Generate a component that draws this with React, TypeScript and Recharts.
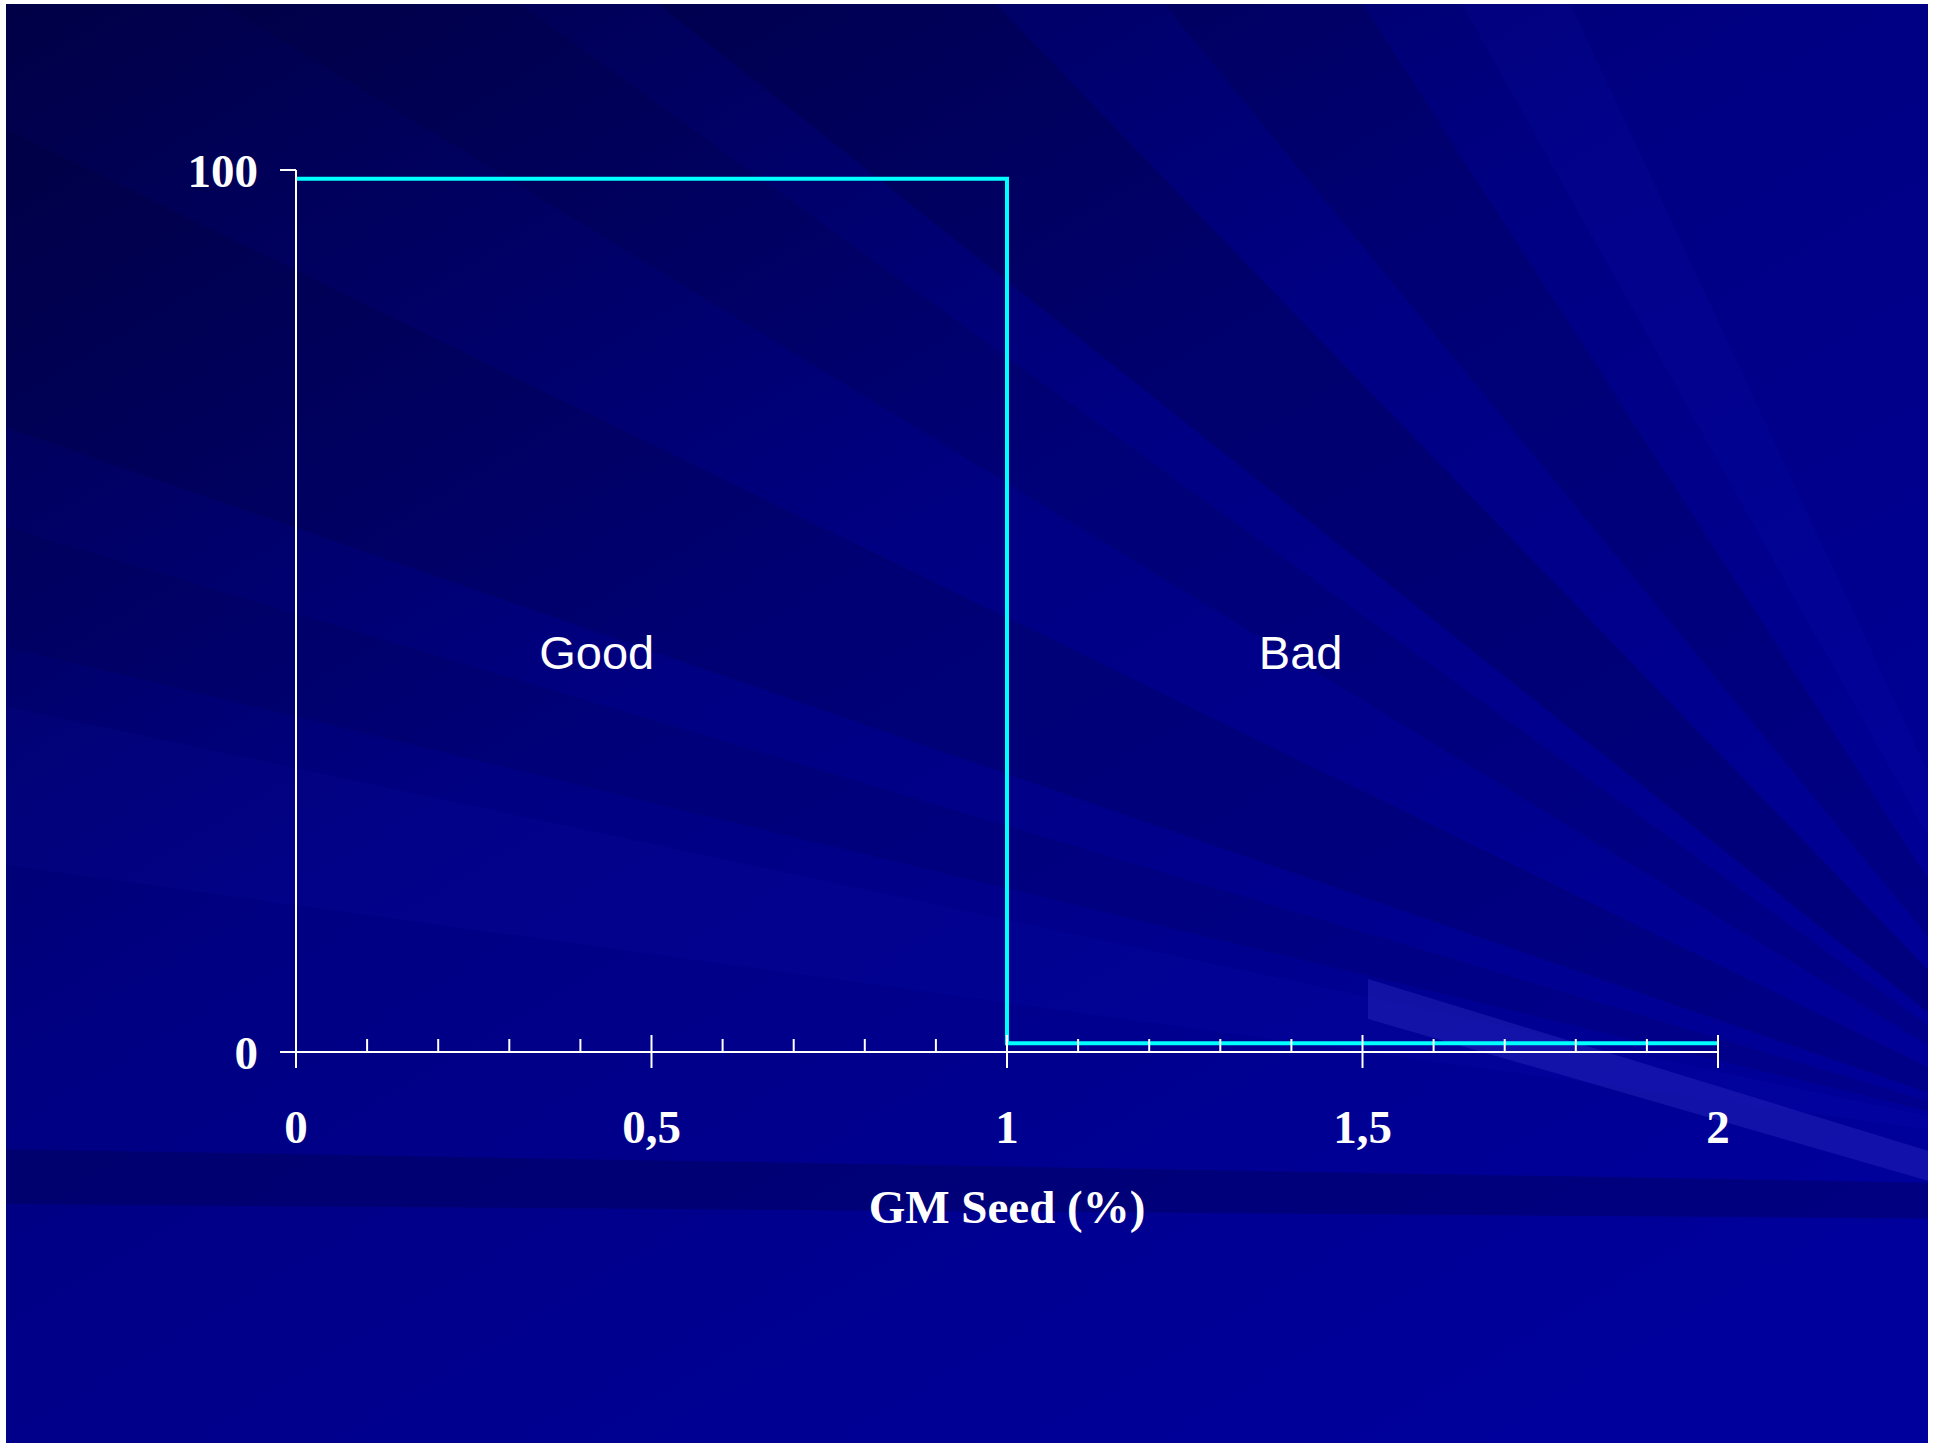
import React from "react";
import { LineChart, Line, XAxis, YAxis, ReferenceDot, Label } from "recharts";

// ---- data ----
const seriesX = [0, 1, 1, 2];
const seriesY = [99, 99, 1, 1];
const xTicks = [0, 0.1, 0.2, 0.3, 0.4, 0.5, 0.6, 0.7, 0.8, 0.9, 1, 1.1, 1.2, 1.3, 1.4, 1.5, 1.6, 1.7, 1.8, 1.9, 2];
const majorTicks = [0, 0.5, 1, 1.5, 2];
const xTickLabels = ["0", "0,5", "1", "1,5", "2"];
const yTicks = [0, 100];
const yTickLabels = ["0", "100"];
const regionLabels = ["Good", "Bad"];
const regionX = [0.423, 1.413];
const regionY = [45.3, 45.3];
const xAxisTitle = "GM Seed (%)";

const data = seriesX.map((x, i) => ({ x, y: seriesY[i] }));

const SERIF = "'Liberation Serif', 'Times New Roman', serif";
const SANS = "'Liberation Sans', Arial, sans-serif";

function XTick(props: any) {
  const { x, y, payload } = props;
  const v = payload.value;
  const idx = majorTicks.findIndex((m) => Math.abs(m - v) < 1e-6);
  if (idx >= 0) {
    return (
      <g>
        <line x1={x} x2={x} y1={y - 17} y2={y + 16} stroke="#ffffff" strokeWidth={2} />
        <text x={x} y={y + 91} textAnchor="middle" fill="#ffffff" fontSize={47} fontWeight="bold" fontFamily={SERIF}>
          {xTickLabels[idx]}
        </text>
      </g>
    );
  }
  return <line x1={x} x2={x} y1={y - 13} y2={y} stroke="#ffffff" strokeWidth={2} />;
}

function Background() {
  const F = "2100,1150";
  return (
    <svg width={1922} height={1439} style={{ position: "absolute", left: 0, top: 0 }}>
      <defs>
        <linearGradient id="bg" x1="0" y1="0" x2="0.8" y2="1">
          <stop offset="0" stopColor="#000046" />
          <stop offset="0.45" stopColor="#000082" />
          <stop offset="1" stopColor="#00009c" />
        </linearGradient>
      </defs>
      <rect x={0} y={0} width={1922} height={1439} fill="url(#bg)" />
      <polygon points={`${F} 640,-10 980,-10`} fill="#000020" opacity={0.2} />
      <polygon points={`${F} 1150,-10 1350,-10`} fill="#000020" opacity={0.15} />
      <polygon points={`${F} 1450,-10 1560,-10`} fill="#2020ff" opacity={0.06} />
      <polygon points={`${F} -10,120 -10,420`} fill="#000020" opacity={0.15} />
      <polygon points={`${F} -10,520 -10,640`} fill="#000030" opacity={0.12} />
      <polygon points={`${F} -10,700 -10,860`} fill="#2020ff" opacity={0.05} />
      <polygon points={`${F} 200,-10 500,-10`} fill="#000020" opacity={0.12} />
      <polygon points="-10,1145 2000,1180 2000,1215 -10,1200" fill="#000030" opacity={0.25} />
      <polygon points="1362,975 1933,1150 1933,1180 1362,1015" fill="#3a3ad0" opacity={0.3} />
    </svg>
  );
}

export default function App() {
  return (
    <div style={{ position: "absolute", left: 6, top: 4, width: 1922, height: 1439, overflow: "hidden" }}>
      <Background />
      <div style={{ position: "absolute", left: 0, top: 0 }}>
        <LineChart width={1922} height={1439} data={data} margin={{ top: 166, right: 210, left: 230, bottom: 191 }}>
          <XAxis
            dataKey="x"
            type="number"
            domain={[0, 2]}
            ticks={xTicks}
            interval={0}
            tickLine={false}
            tickSize={0}
            tickMargin={0}
            height={200}
            axisLine={{ stroke: "#ffffff", strokeWidth: 2 }}
            tick={<XTick />}
          >
            <Label
              content={(p: any) => {
                const vb = p.viewBox;
                return (
                  <text x={vb.x + vb.width / 2} y={vb.y + 171} textAnchor="middle" fill="#ffffff" fontSize={47} fontWeight="bold" fontFamily={SERIF}>
                    {xAxisTitle}
                  </text>
                );
              }}
            />
          </XAxis>
          <YAxis
            type="number"
            domain={[0, 100]}
            ticks={yTicks}
            interval={0}
            width={60}
            tickSize={16}
            tickMargin={22}
            tickLine={{ stroke: "#ffffff", strokeWidth: 2 }}
            axisLine={{ stroke: "#ffffff", strokeWidth: 2 }}
            tickFormatter={(v: number) => yTickLabels[yTicks.indexOf(v)]}
            tick={{ fill: "#ffffff", fontSize: 47, fontWeight: "bold", fontFamily: SERIF }}
          />
          <Line
            dataKey="y"
            type="linear"
            stroke="#00ffff"
            strokeWidth={4}
            dot={false}
            activeDot={false}
            isAnimationActive={false}
          />
          {regionLabels.map((t, i) => (
            <ReferenceDot
              key={t}
              x={regionX[i]}
              y={regionY[i]}
              r={0}
              fill="none"
              stroke="none"
              label={{ value: t, position: "center", fill: "#ffffff", fontSize: 47, fontFamily: SANS }}
            />
          ))}
        </LineChart>
      </div>
    </div>
  );
}
